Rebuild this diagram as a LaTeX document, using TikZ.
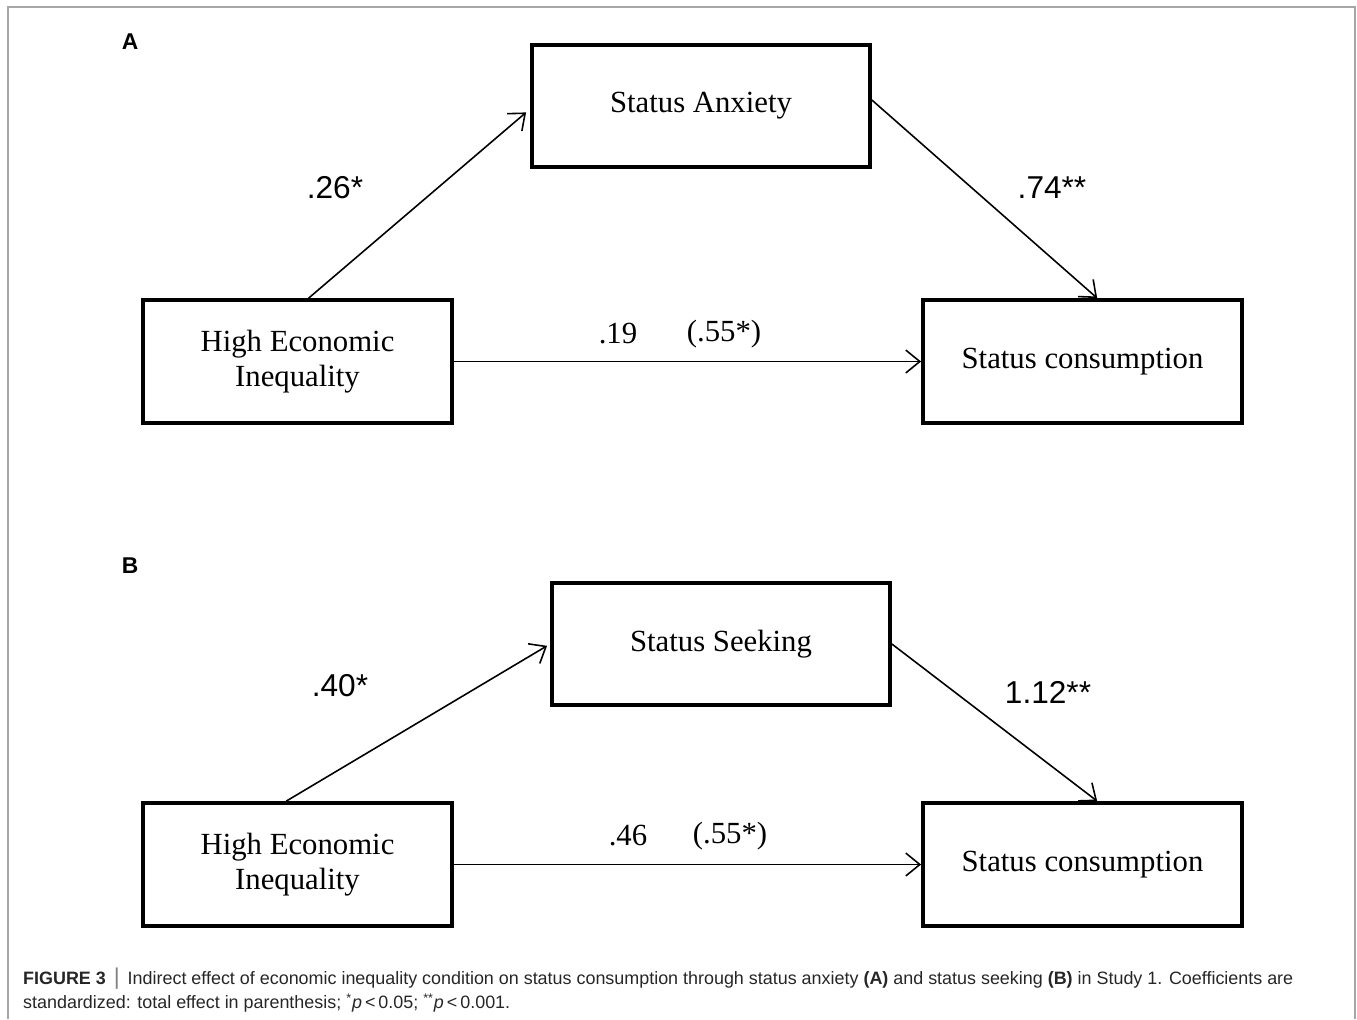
\documentclass[tikz,border=0pt]{standalone}
\usepackage{fontspec}
\setmainfont{Liberation Serif}
\setsansfont{Liberation Sans}
\usetikzlibrary{arrows.meta}

\tikzset{
  varbox/.style={rectangle, draw, line width=2.2pt, minimum height=2.46cm, align=center, font=\fontsize{17.5}{20}\selectfont},
  link/.style={-{Straight Barb[length=8pt,width=13pt]}, line width=0.9pt},
  coef/.style={font=\sffamily\fontsize{18}{20}\selectfont},
  coefserif/.style={font=\fontsize{17.5}{20}\selectfont},
  panel/.style={font=\sffamily\bfseries\fontsize{13}{15}\selectfont},
  captext/.style={anchor=west, text=black!85, font=\sffamily\fontsize{10.2}{12}\selectfont},
}

\begin{document}
\begin{tikzpicture}[x=0.02cm, y=-0.02cm]
\useasboundingbox (0,0) rectangle (1357,1019);

% frame
\draw [gray!70, line width=0.7pt] (8,1019) -- (8,7) -- (1355,7) -- (1355,1019);

% panel A
\draw (130,42) node (labA) [panel] {A};

\draw (297.5,361.5) node (heiA) [varbox, minimum width=6.18cm] {High Economic\\Inequality};
\draw (701,106) node (saA) [varbox, minimum width=6.76cm, minimum height=2.44cm] {Status Anxiety};
\draw (1082.5,361.5) node (scA) [varbox, minimum width=6.38cm] {Status consumption};

\draw [link, shorten >=3pt] (heiA.80) -- (saA.181);
\draw [link] (saA.2) -- (scA.77);
\draw [link] (heiA.east) -- (scA.west);

\draw (335,188) node (cA1) [coef] {.26*};
\draw (1052,188) node (cA2) [coef] {.74**};
\draw (618,334) node (cA3) [coefserif] {.19};
\draw (724,334) node (cA4) [coefserif] {(.55*)};

% panel B
\draw (130,566) node (labB) [panel] {B};

\draw (297.5,864.5) node (heiB) [varbox, minimum width=6.18cm] {High Economic\\Inequality};
\draw (721,644) node (ssB) [varbox, minimum width=6.76cm, minimum height=2.44cm] {Status Seeking};
\draw (1082.5,864.5) node (scB) [varbox, minimum width=6.38cm] {Status consumption};

\draw [link, shorten >=2pt] (heiB.100) -- (ssB.west);
\draw [link] (ssB.east) -- (scB.77);
\draw [link] (heiB.east) -- (scB.west);

\draw (340,686) node (cB1) [coef] {.40*};
\draw (1048,692) node (cB2) [coef] {1.12**};
\draw (628,836) node (cB3) [coefserif] {.46};
\draw (730,836) node (cB4) [coefserif] {(.55*)};

% caption
\draw (17,979) node (cap1) [captext] {\textbf{FIGURE 3}\, {\color{gray}\fontsize{13}{12}\selectfont|}\, Indirect effect of economic inequality condition on status consumption through status anxiety \textbf{(A)} and status seeking \textbf{(B)} in Study 1. Coefficients are};
\draw (17,1003) node (cap2) [captext] {standardized: total effect in parenthesis; \textsuperscript{*}\textit{p}\,<\,0.05; \textsuperscript{**}\textit{p}\,<\,0.001.};

\end{tikzpicture}
\end{document}
